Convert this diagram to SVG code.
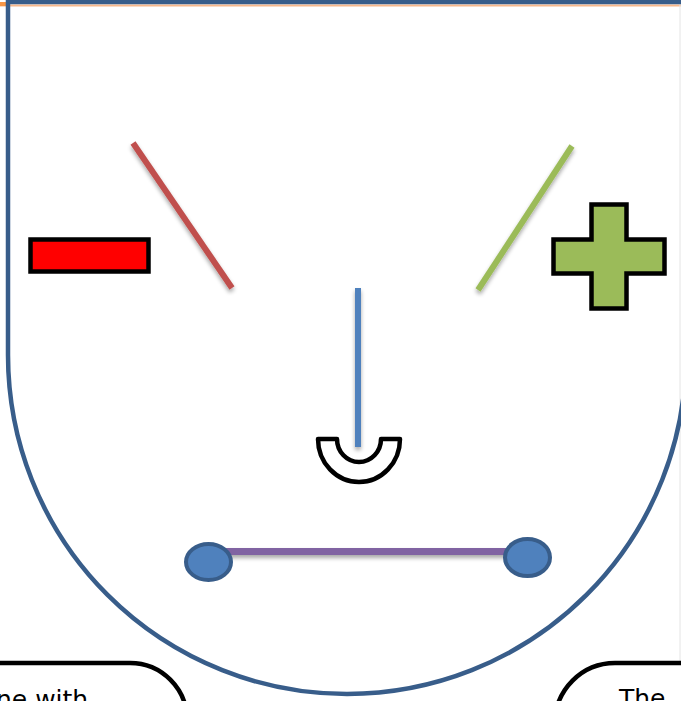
<svg xmlns="http://www.w3.org/2000/svg" width="681" height="701" viewBox="0 0 681 701">
<defs>
<style>
.txt{font-family:"DejaVu Sans","Liberation Sans",sans-serif;font-size:25px;fill:#000}
.bubble{fill:#fff;stroke:#000;stroke-width:4.5}
.sym{stroke:#000;stroke-width:4.5}
.line{fill:none;stroke-width:6;stroke-linecap:butt}
.eye{fill:#4f81bd;stroke:#385d8a;stroke-width:4}
</style>
<filter id="sh" filterUnits="userSpaceOnUse" x="0" y="0" width="681" height="701">
<feGaussianBlur in="SourceAlpha" stdDeviation="2"/>
<feOffset dx="0" dy="3" result="b"/>
<feComponentTransfer><feFuncA type="linear" slope="0.35"/></feComponentTransfer>
<feMerge><feMergeNode/><feMergeNode in="SourceGraphic"/></feMerge>
</filter>
</defs>
<rect x="0" y="0" width="681" height="701" fill="#fff"/>
<line x1="0" y1="5.5" x2="681" y2="5.5" stroke="#f8b88b" stroke-width="2"/>
<line x1="0" y1="4" x2="6" y2="4" stroke="#f79646" stroke-width="4"/>
<line x1="680" y1="0" x2="680" y2="701" stroke="#e4e4e4" stroke-width="1"/>
<g id="face">
<path d="M 8 2 L 8 355 A 339 339 0 0 0 686 355 L 686 2 Z" fill="none" stroke="#385d8a" stroke-width="4.5"/>
</g>
<g id="bubble-left">
<rect class="bubble" x="-100" y="663" width="287" height="120" rx="57" ry="57"/>
<text class="txt" x="-4" y="708">ne with</text>
</g>
<g id="bubble-right">
<rect class="bubble" x="555" y="663" width="240" height="120" rx="60" ry="60"/>
<text class="txt" x="619" y="707">The</text>
</g>
<g id="minus">
<rect class="sym" x="30.5" y="239.5" width="118" height="32" fill="#ff0000"/>
</g>
<g id="plus">
<path class="sym" fill="#9bbb59" d="M 591.5 204.5 L 626.5 204.5 L 626.5 239.5 L 664.5 239.5 L 664.5 273.5 L 626.5 273.5 L 626.5 308.5 L 591.5 308.5 L 591.5 273.5 L 553.5 273.5 L 553.5 239.5 L 591.5 239.5 Z"/>
</g>
<g id="connectors">
<line class="line" x1="133" y1="143" x2="232" y2="288" stroke="#c0504d" filter="url(#sh)"/>
<line class="line" x1="572" y1="146" x2="478" y2="290" stroke="#9bbb59" filter="url(#sh)"/>
<line class="line" x1="358" y1="288" x2="358" y2="447" stroke="#4f81bd" filter="url(#sh)"/>
<line x1="210" y1="551.5" x2="527" y2="551.5" stroke="#8064a2" stroke-width="7" filter="url(#sh)"/>
</g>
<g id="nose">
<path d="M 318 439 A 41 43 0 0 0 400 439 L 381 439 A 22 23 0 0 1 337 439 Z" fill="#fff" stroke="#000" stroke-width="4.5" stroke-linejoin="round"/>
</g>
<g id="eye-left">
<ellipse class="eye" cx="208.5" cy="562" rx="22.5" ry="18"/>
</g>
<g id="eye-right">
<ellipse class="eye" cx="527.5" cy="557.5" rx="22.5" ry="18.5"/>
</g>
</svg>
